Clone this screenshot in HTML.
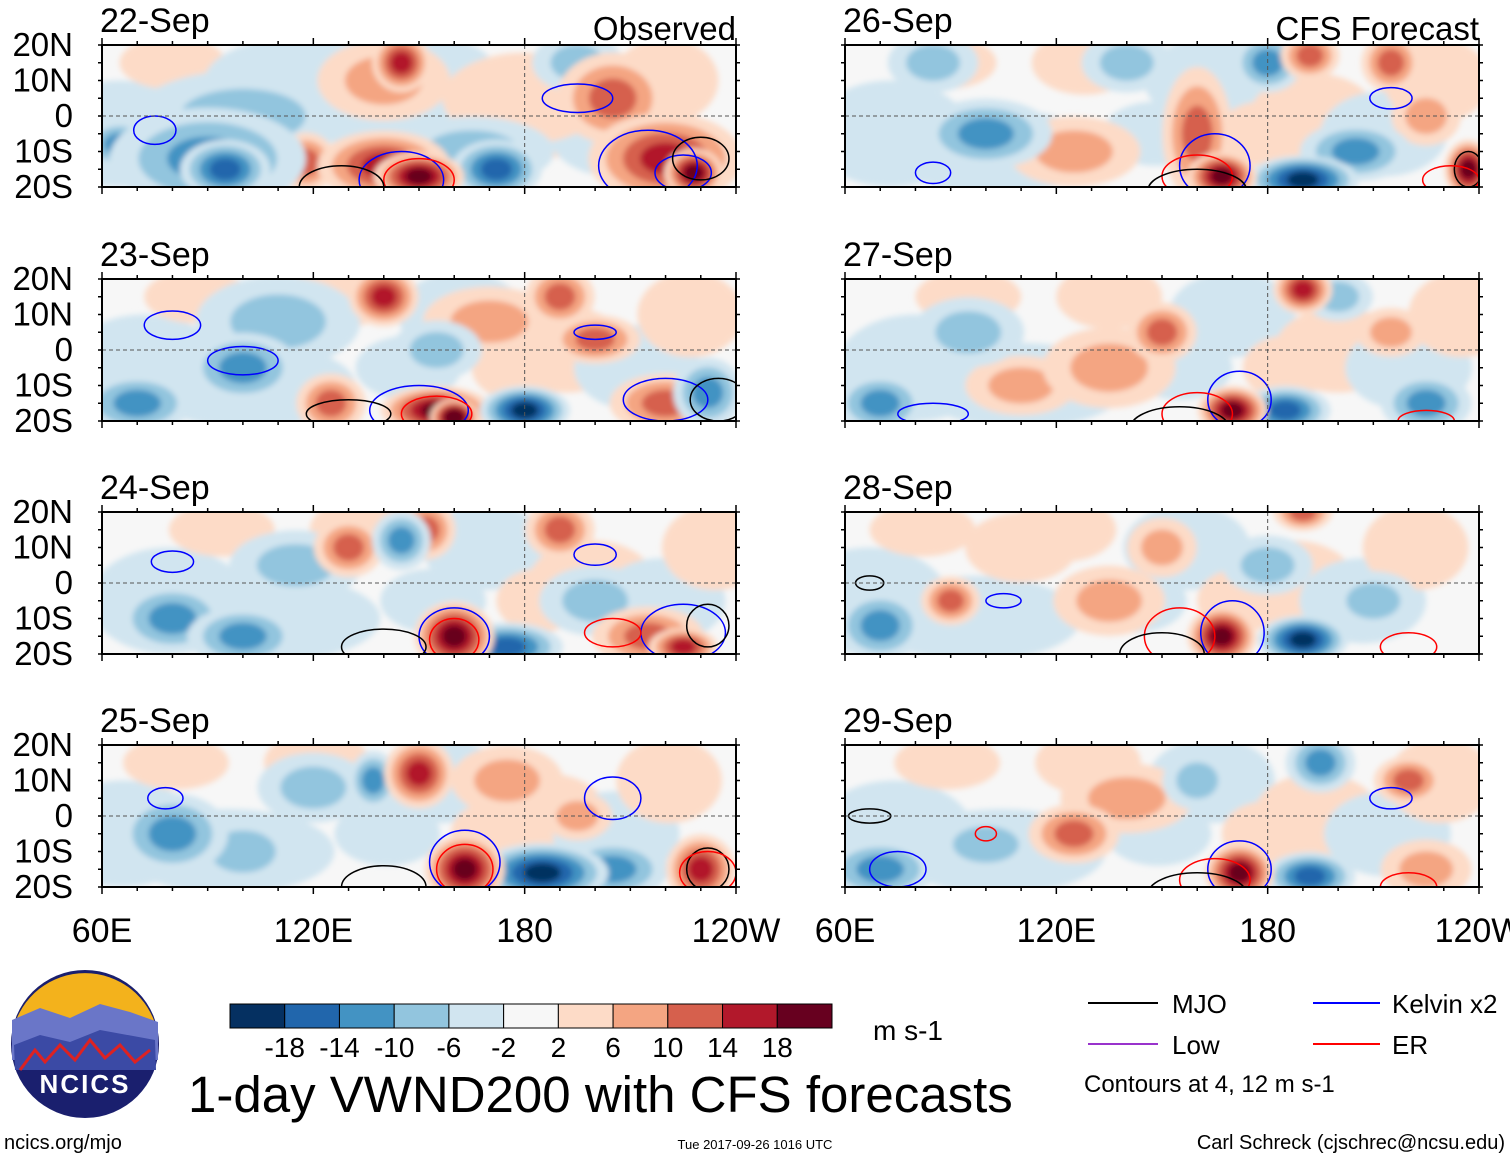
<!DOCTYPE html>
<html><head><meta charset="utf-8">
<style>
body{margin:0;background:#fff;width:1510px;height:1159px;overflow:hidden;font-family:"Liberation Sans",sans-serif}
svg text{font-family:"Liberation Sans",sans-serif}
</style></head>
<body>
<svg id="chart" width="1510" height="1159" viewBox="0 0 1510 1159" xmlns="http://www.w3.org/2000/svg">
<defs>
<filter id="blur" x="-50%" y="-50%" width="200%" height="200%"><feGaussianBlur stdDeviation="3"/></filter>
</defs>
<g id="panels"></g>
<g id="footer"></g>
</svg>
<script>
// ---- data ----
const panelLabels=["22-Sep","23-Sep","24-Sep","25-Sep","26-Sep","27-Sep","28-Sep","29-Sep"];
const latTicks=[20,10,0,-10,-20];
const latTickLabels=["20N","10N","0","10S","20S"];
const lonTicks=[60,120,180,240];
const lonTickLabels=["60E","120E","180","120W"];
const levels=[-18,-14,-10,-6,-2,2,6,10,14,18];
const colors=["#053061","#2166ac","#4393c3","#92c5de","#d1e5f0","#f7f7f7","#fddbc7","#f4a582","#d6604d","#b2182b","#67001f"];
// broad weak background anomalies: [lon, lat, value, rxDeg, ryDeg]
const base=[[75,-5,-3,15,10],[105,-10,-4,20,8],[130,15,3,10,6],[165,10,-3,12,8],[195,0,3,12,8],[215,-5,-3,12,8],[230,10,3,10,8],[90,15,3,10,5],[150,-5,-3,10,6],[180,-5,3,8,6]];
// anomaly blobs per panel: [lon, lat, value, rxDeg, ryDeg]
const blobs0=[[90,-12,-10,18,9],[95,-15,-14,8,5],[65,-8,-8,6,4],[100,0,-4,20,8],[145,15,14,5,5],[140,10,6,12,7],[150,-17,18,8,4],[140,-14,12,12,6],[172,-15,-14,8,5],[165,-10,-6,15,6],[118,-13,8,5,5],[220,-12,14,14,8],[228,-16,18,5,4],[205,5,10,10,8],[195,15,-6,8,5],[120,10,-3,20,8],[180,5,3,15,8]];
const blobs1=[[140,15,12,6,5],[155,-17,16,10,4],[160,-19,20,4,3],[180,-17,-16,8,4],[70,-15,-10,10,5],[100,-5,-8,10,6],[125,-15,8,6,5],[155,0,-6,8,5],[200,3,8,8,4],[190,15,8,6,5],[220,-15,8,10,5],[232,-12,-10,6,6],[110,8,-4,15,8],[170,8,4,12,6]];
const blobs2=[[145,12,-10,5,5],[130,10,8,6,5],[160,-15,18,7,6],[175,-18,-14,10,4],[80,-10,-8,10,6],[100,-15,-8,10,5],[215,-15,8,10,5],[225,-18,12,6,3],[200,-5,-6,10,6],[152,15,8,5,5],[190,15,8,6,5],[115,5,-4,12,6]];
const blobs3=[[150,12,12,6,6],[137,10,-10,4,5],[163,-15,18,7,6],[185,-16,-16,12,5],[80,-5,-8,10,7],[100,-10,-6,10,6],[230,-15,14,6,6],[205,-15,-10,10,5],[195,0,6,6,4],[120,8,-4,10,6],[175,10,4,10,6]];
const blobs4=[[160,-5,10,6,12],[167,-17,18,6,4],[190,-18,-16,10,4],[100,-5,-8,12,6],[85,15,-6,8,5],[180,15,-8,6,5],[192,17,10,5,4],[215,15,10,5,5],[140,15,-6,8,5],[205,-10,-8,10,5],[237,-15,16,4,5],[225,0,6,6,5],[125,-10,4,12,6]];
const blobs5=[[170,-17,18,6,4],[185,-17,-14,8,4],[190,17,12,5,4],[135,-5,6,12,7],[150,5,8,6,5],[70,-15,-8,8,5],[95,5,-6,10,6],[200,15,-6,6,4],[215,5,6,6,4],[225,-15,-8,8,5],[110,-10,4,10,5]];
const blobs6=[[167,-15,16,6,5],[190,-16,-16,8,4],[70,-12,-8,8,6],[90,-5,8,5,4],[135,-5,6,10,6],[180,5,-6,8,5],[190,20,10,5,3],[210,-5,-6,8,5],[150,10,6,6,5],[110,10,3,10,6]];
const blobs7=[[172,-16,16,6,5],[192,-17,-14,8,4],[220,10,10,6,4],[70,-15,-8,10,5],[125,-5,8,8,5],[160,10,-6,6,5],[195,15,-8,6,5],[225,-15,6,8,5],[100,-8,-6,10,5],[140,5,4,12,6]];
const allBlobs=[blobs0,blobs1,blobs2,blobs3,blobs4,blobs5,blobs6,blobs7];
// contours per panel: [lon, lat, rxDeg, ryDeg, type]  (type: k=MJO, b=Kelvin, r=ER)
const cont0=[[75,-4,6,4,"b"],[145,-18,12,8,"b"],[150,-18,10,6,"r"],[128,-20,12,6,"k"],[215,-14,14,10,"b"],[225,-16,8,5,"b"],[195,5,10,4,"b"],[230,-12,8,6,"k"]];
const cont1=[[80,7,8,4,"b"],[100,-3,10,4,"b"],[150,-17,14,7,"b"],[155,-18,10,5,"r"],[130,-18,12,4,"k"],[220,-14,12,6,"b"],[235,-14,8,6,"k"],[200,5,6,2,"b"]];
const cont2=[[80,6,6,3,"b"],[160,-15,10,8,"b"],[160,-16,7,6,"r"],[140,-18,12,5,"k"],[225,-14,12,8,"b"],[232,-12,6,6,"k"],[200,8,6,3,"b"],[205,-14,8,4,"r"]];
const cont3=[[78,5,5,3,"b"],[163,-13,10,9,"b"],[163,-15,8,7,"r"],[140,-20,12,6,"k"],[205,5,8,6,"b"],[232,-15,6,6,"k"],[232,-16,8,6,"r"]];
const cont4=[[165,-14,10,9,"b"],[160,-17,10,6,"r"],[160,-21,14,6,"k"],[85,-16,5,3,"b"],[215,5,6,3,"b"],[237,-15,4,5,"k"],[232,-18,8,4,"r"]];
const cont5=[[172,-14,9,8,"b"],[160,-18,10,6,"r"],[155,-22,14,6,"k"],[225,-20,8,3,"r"],[85,-18,10,3,"b"]];
const cont6=[[170,-14,9,9,"b"],[155,-15,10,8,"r"],[150,-20,12,6,"k"],[67,0,4,2,"k"],[105,-5,5,2,"b"],[220,-18,8,4,"r"]];
const cont7=[[172,-15,9,8,"b"],[165,-18,10,6,"r"],[160,-22,14,6,"k"],[67,0,6,2,"k"],[100,-5,3,2,"r"],[75,-15,8,5,"b"],[215,5,6,3,"b"],[220,-20,8,4,"r"]];
const allCont=[cont0,cont1,cont2,cont3,cont4,cont5,cont6,cont7];

// ---- geometry ----
const colX=[102,845], rowY=[45,279,512,745], PW=634, PH=142;
const NS="http://www.w3.org/2000/svg";
function el(tag,attrs,parent,text){const e=document.createElementNS(NS,tag);for(const k in attrs)e.setAttribute(k,attrs[k]);if(text!==undefined)e.textContent=text;parent.appendChild(e);return e;}
function colorOf(v){let i=0;while(i<levels.length&&v>levels[i])i++;return colors[i];}
const kx=PW/180, ky=PH/40, grow=1.5;
const ctype={k:"#000",b:"#0000ff",r:"#ff0000"};
const root=document.getElementById("panels");
for(let p=0;p<8;p++){
  const x0=colX[Math.floor(p/4)], y0=rowY[p%4];
  const X=lon=>x0+(lon-60)*kx, Y=lat=>y0+(20-lat)*ky;
  const g=el("g",{},root);
  
  
  const cid="clip"+p;
  const cp=el("clipPath",{id:cid},g);
  el("rect",{x:x0,y:y0,width:PW,height:PH},cp);
  const bg=el("rect",{x:x0,y:y0,width:PW,height:PH,fill:"#f7f7f7"},g);
  
  
  const fg=el("g",{"clip-path":"url(#"+cid+")"},g);
  const bl=el("g",{filter:"url(#blur)"},fg);
  const shift=(p*7)%20-10;
  for(const b of base){
    const e=el("ellipse",{cx:X(b[0]+shift),cy:Y(b[1]),rx:b[3]*kx*grow,ry:b[4]*ky*grow,fill:colorOf(b[2])},bl);
    
    
  }
  const sorted=allBlobs[p].slice().sort((a,b)=>Math.abs(a[2])-Math.abs(b[2]));
  for(const b of sorted){
    const steps=Math.max(1,Math.ceil((Math.abs(b[2])-3)/4)+1);
    for(let s=0;s<steps;s++){
      const f=1-s/(steps+0.3);
      const v=Math.sign(b[2])*(3+4*s);
      const e=el("ellipse",{cx:X(b[0]),cy:Y(b[1]),rx:b[3]*kx*f*grow+3,ry:b[4]*ky*f*grow+3,fill:colorOf(v)},bl);
      
      
    }
  }
  for(const c of allCont[p]){
    const e=el("ellipse",{cx:X(c[0]),cy:Y(c[1]),rx:c[2]*kx,ry:c[3]*ky,fill:"none",stroke:ctype[c[4]],"stroke-width":1.5},fg);
    
    
  }
  const eq=el("line",{x1:x0,x2:x0+PW,y1:Y(0),y2:Y(0),stroke:"#555","stroke-dasharray":"4,3","stroke-width":1},fg);
  
  
  const dl=el("line",{x1:X(180),x2:X(180),y1:y0,y2:y0+PH,stroke:"#555","stroke-dasharray":"4,3","stroke-width":1},fg);
  
  
  const fr=el("rect",{x:x0,y:y0,width:PW,height:PH,fill:"none",stroke:"#000","stroke-width":2},g);
  
  
  for(let lon=60;lon<=240;lon+=10){
    const L=(lon%60===0)?7:4;
    el("line",{x1:X(lon),x2:X(lon),y1:y0-L,y2:y0,stroke:"#000","stroke-width":1.5},g);
    el("line",{x1:X(lon),x2:X(lon),y1:y0+PH,y2:y0+PH+L,stroke:"#000","stroke-width":1.5},g);
  }
  for(let lat=-20;lat<=20;lat+=5){
    el("line",{x1:x0-4,x2:x0,y1:Y(lat),y2:Y(lat),stroke:"#000","stroke-width":1.5},g);
    el("line",{x1:x0+PW,x2:x0+PW+4,y1:Y(lat),y2:Y(lat),stroke:"#000","stroke-width":1.5},g);
  }
  const t=el("text",{x:x0-2,y:y0-13,"font-size":34},g,panelLabels[p]);
  
  
  if(p%4===0){
    const r=el("text",{x:x0+PW,y:y0-5,"font-size":33,"text-anchor":"end"},g,p===0?"Observed":"CFS Forecast");
    
    
  }
  if(p<4){
    latTicks.forEach((lat,i)=>{
      const l=el("text",{x:73,y:Y(lat)+11,"font-size":33,"text-anchor":"end"},g,latTickLabels[i]);
      
      
    });
  }
  if(p%4===3){
    lonTicks.forEach((lon,i)=>{
      const l=el("text",{x:X(lon),y:y0+PH+55,"font-size":34,"text-anchor":"middle"},g,lonTickLabels[i]);
      
      
    });
  }
}
// ---- footer ----
const ft=document.getElementById("footer");
const cbX=230,cbY=1004,cbW=602,cbH=24,bw=cbW/colors.length;
colors.forEach((c,i)=>{
  const r=el("rect",{x:cbX+i*bw,y:cbY,width:bw,height:cbH,fill:c,stroke:"#000","stroke-width":1},ft);
  
  
});
levels.forEach((v,i)=>{
  const t=el("text",{x:cbX+(i+1)*bw,y:1057,"font-size":28,"text-anchor":"middle"},ft,String(v));
  
  
});
</script>
<svg style="position:absolute;left:0;top:0" width="1510" height="1159">
 <g>
  <circle cx="85" cy="1044" r="74" fill="#1a1f6e"/>
  <path d="M13 1030 A74 74 0 0 1 157 1030 Z" fill="#f3b21c"/>
  <path d="M12 1020 L40 1008 L70 1018 L100 1004 L130 1012 L158 1022 L158 1060 L12 1060 Z" fill="#6a76c8"/>
  <path d="M14 1045 L40 1035 L70 1042 L100 1030 L155 1040 L156 1070 L15 1070 Z" fill="#3b4aa5"/>
  <path d="M20 1070 L35 1050 L45 1062 L60 1045 L75 1060 L90 1040 L105 1058 L120 1045 L135 1062 L150 1050" stroke="#d22" stroke-width="3" fill="none"/>
  <text x="85" y="1093" font-size="26" font-weight="bold" fill="#fff" text-anchor="middle" letter-spacing="2">NCICS</text>
 </g>
 <text x="873" y="1040" font-size="28">m s-1</text>
 <text x="188" y="1112" font-size="51">1-day VWND200 with CFS forecasts</text>
 <text x="4" y="1149" font-size="20">ncics.org/mjo</text>
 <text x="755" y="1149" font-size="13" text-anchor="middle">Tue 2017-09-26 1016 UTC</text>
 <text x="1505" y="1149" font-size="20" text-anchor="end">Carl Schreck (cjschrec@ncsu.edu)</text>
 <line x1="1088" y1="1003" x2="1158" y2="1003" stroke="#000" stroke-width="2"/>
 <text x="1172" y="1013" font-size="26">MJO</text>
 <line x1="1313" y1="1003" x2="1380" y2="1003" stroke="#00f" stroke-width="2"/>
 <text x="1392" y="1013" font-size="26">Kelvin x2</text>
 <line x1="1088" y1="1044" x2="1158" y2="1044" stroke="#9933cc" stroke-width="2"/>
 <text x="1172" y="1054" font-size="26">Low</text>
 <line x1="1313" y1="1044" x2="1380" y2="1044" stroke="#f00" stroke-width="2"/>
 <text x="1392" y="1054" font-size="26">ER</text>
 <text x="1084" y="1092" font-size="24">Contours at 4, 12 m s-1</text>
</svg>
</body></html>
